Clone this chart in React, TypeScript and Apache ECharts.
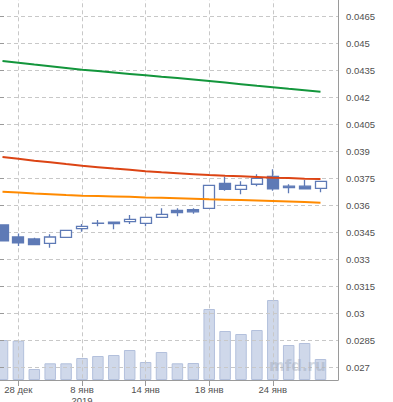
import React, { useEffect, useRef } from 'react';
import * as echarts from 'echarts';

// Trading days (Dec 2018 – Jan 2019)
const categories = [
  '27 дек', '28 дек', '29 дек', '3 янв', '4 янв', '8 янв', '9 янв', '10 янв', '11 янв',
  '14 янв', '15 янв', '16 янв', '17 янв', '18 янв', '21 янв', '22 янв', '23 янв',
  '24 янв', '25 янв', '28 янв', '29 янв',
];
const yearStartCategory = '8 янв';
const yearLabel = '2019';

const opens = [0.03491, 0.03424, 0.03413, 0.03389, 0.03422, 0.0347, 0.035, 0.03507, 0.03509, 0.035, 0.03533, 0.03571, 0.03576, 0.03583, 0.03722, 0.03689, 0.03717, 0.03761, 0.03706, 0.03706, 0.03694];
const closes = [0.03403, 0.03392, 0.03381, 0.03424, 0.03461, 0.03483, 0.03501, 0.03498, 0.03522, 0.03533, 0.0355, 0.03559, 0.03564, 0.03711, 0.03689, 0.03711, 0.0375, 0.03692, 0.03698, 0.03692, 0.03733];
const lows = [0.03403, 0.03374, 0.03381, 0.03364, 0.03422, 0.03453, 0.03483, 0.03467, 0.03496, 0.03483, 0.03533, 0.03539, 0.03553, 0.03583, 0.03681, 0.03661, 0.03706, 0.03681, 0.03667, 0.03692, 0.03672];
const highs = [0.03491, 0.03444, 0.0342, 0.03439, 0.03461, 0.03496, 0.03518, 0.03507, 0.03546, 0.03533, 0.03583, 0.03583, 0.03583, 0.03711, 0.03759, 0.03733, 0.03772, 0.038, 0.03717, 0.03741, 0.03733];

const volumes = [400, 393, 110, 167, 167, 220, 240, 250, 300, 180, 280, 167, 170, 710, 490, 460, 500, 800, 350, 370, 210];

const maGreen = [0.04402, 0.04392, 0.04382, 0.04373, 0.04363, 0.04353, 0.04346, 0.04338, 0.0433, 0.04322, 0.04314, 0.04307, 0.04299, 0.04291, 0.04282, 0.04273, 0.04264, 0.04256, 0.04247, 0.04239, 0.04231];
const maRed = [0.03868, 0.03858, 0.03848, 0.03839, 0.03829, 0.0382, 0.03812, 0.03804, 0.03797, 0.03789, 0.03783, 0.03778, 0.03773, 0.03768, 0.03764, 0.03761, 0.03757, 0.03753, 0.03751, 0.03748, 0.03746];
const maOrange = [0.03675, 0.03671, 0.03666, 0.03662, 0.03657, 0.03653, 0.03651, 0.03649, 0.03647, 0.03644, 0.03642, 0.03639, 0.03636, 0.03633, 0.03631, 0.03629, 0.03627, 0.03624, 0.03621, 0.03618, 0.03614];

const priceMin = 0.027;
const priceMax = 0.048;
const priceStep = 0.0015;
const volumeMax = 3907;

const CANDLE = '#5e7ab6';
const GRID_LINE = '#c8c8c8';
const AXIS = '#9a9a9a';
const TEXT = '#505050';
const FONT = '"Liberation Sans", Arial, sans-serif';

const labelEvery = (i: number) => i < categories.length && i % 4 === 1;

export default function App() {
  const ref = useRef<HTMLDivElement>(null);
  useEffect(() => {
    if (!ref.current) return;
    const chart = echarts.init(ref.current, null, { renderer: 'svg' });
    const candles = opens.map((o, i) => [o, closes[i], lows[i], highs[i]]);
    const plotLeft = -5.45;
    const plotWidth = 333.9;
    chart.setOption({
      animation: false,
      backgroundColor: '#ffffff',
      grid: [
        { left: 0, right: 55, top: -10.7, bottom: 34.7, outerBoundsMode: 'none' },
        { left: plotLeft, width: plotWidth, top: -10.7, bottom: 34.7, outerBoundsMode: 'none' },
        { left: plotLeft, width: plotWidth, top: -10.7, bottom: 22, outerBoundsMode: 'none' },
      ],
      xAxis: [
        {
          gridIndex: 0, type: 'value', min: 0, max: 1, offset: 12.7,
          axisLine: { show: true, lineStyle: { color: AXIS, width: 1 } },
          axisTick: { show: false }, axisLabel: { show: false }, splitLine: { show: false },
        },
        { gridIndex: 1, type: 'category', data: categories, show: false },
        {
          gridIndex: 2, type: 'category', data: categories, z: 1,
          axisLine: { show: false },
          axisTick: { show: true, alignWithLabel: true, interval: labelEvery, length: 6, lineStyle: { color: AXIS } },
          axisLabel: {
            interval: labelEvery, margin: 4, fontSize: 9.5, lineHeight: 11, color: TEXT, fontFamily: FONT,
            formatter: (v: string) => (v === yearStartCategory ? v + '\n' + yearLabel : v),
          },
          splitLine: { show: true, alignWithLabel: true, interval: labelEvery, lineStyle: { color: GRID_LINE, type: [4, 3], width: 1 } },
        },
      ],
      yAxis: [
        {
          gridIndex: 0, type: 'value', position: 'right', min: priceMin, max: priceMax, interval: priceStep, z: 1,
          axisLine: { show: false },
          axisTick: { show: true, length: 4, lineStyle: { color: AXIS } },
          axisLabel: { margin: 8, fontSize: 9.5, color: TEXT, fontFamily: FONT, showMaxLabel: false },
          splitLine: { show: true, lineStyle: { color: GRID_LINE, type: [4, 3], width: 1 } },
        },
        { gridIndex: 1, type: 'value', min: priceMin, max: priceMax, show: false },
        {
          gridIndex: 2, type: 'value', position: 'right', min: 0, max: volumeMax, offset: 338 - (plotLeft + plotWidth),
          axisLine: { show: true, lineStyle: { color: AXIS, width: 1 } },
          axisTick: { show: false }, axisLabel: { show: false }, splitLine: { show: false },
        },
      ],
      series: [
        {
          type: 'bar', xAxisIndex: 2, yAxisIndex: 2, data: volumes, barWidth: 11.5, z: 0,
          itemStyle: { color: '#cfd8ea', borderColor: '#b3c0dc', borderWidth: 1 },
        },
        {
          type: 'candlestick', xAxisIndex: 1, yAxisIndex: 1, data: candles, barWidth: 11.5, z: 3,
          itemStyle: { color: '#ffffff', color0: CANDLE, borderColor: CANDLE, borderColor0: CANDLE, borderWidth: 1.3 },
        },
        { type: 'line', xAxisIndex: 1, yAxisIndex: 1, data: maGreen, symbol: 'none', z: 4, lineStyle: { color: '#13963c', width: 2 } },
        { type: 'line', xAxisIndex: 1, yAxisIndex: 1, data: maRed, symbol: 'none', z: 4, lineStyle: { color: '#dc4414', width: 2 } },
        { type: 'line', xAxisIndex: 1, yAxisIndex: 1, data: maOrange, symbol: 'none', z: 4, lineStyle: { color: '#ff8a00', width: 2 } },
      ],
      graphic: [
        {
          type: 'text', left: 269, top: 358, z: 10,
          style: {
            text: 'mfd.ru', fontFamily: 'DejaVu Sans', fontSize: 15, fontWeight: 'bold',
            fill: 'rgba(150,160,178,0.4)',
          },
        },
      ],
    });
    return () => chart.dispose();
  }, []);
  return <div ref={ref} style={{ position: 'fixed', left: 0, top: 0, width: 393, height: 402 }} />;
}
